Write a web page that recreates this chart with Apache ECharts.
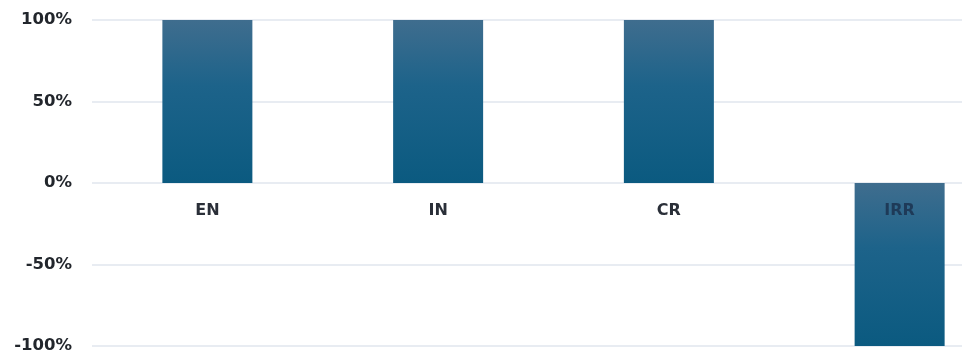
<!DOCTYPE html>
<html>
<head>
<meta charset="utf-8">
<script src="https://cdn.jsdelivr.net/npm/echarts@6/dist/echarts.min.js"></script>
<style>html,body{margin:0;padding:0;background:#fff}#c{width:962px;height:356px}</style>
</head>
<body>
<div id="c"></div>
<script>
const categories = ['EN', 'IN', 'CR', 'IRR'];
const values = [1, 1, 1, -1];
const yTicks = [-1, -0.5, 0, 0.5, 1];

const chart = echarts.init(document.getElementById('c'), null, {renderer: 'canvas'});
const barGrad = new echarts.graphic.LinearGradient(0, 0, 0, 1, [
  {offset: 0, color: '#3f6d8e'},
  {offset: 0.4, color: '#1d638a'},
  {offset: 1, color: '#0b5a80'}
]);
chart.setOption({
  animation: false,
  grid: {left: 92, right: -53, top: 20, bottom: 10, containLabel: false, outerBoundsMode: 'none'},
  xAxis: {
    type: 'category',
    data: categories,
    position: 'bottom',
    offset: -163,
    z: 5,
    axisLine: {show: false, onZero: false},
    axisTick: {show: false},
    axisLabel: {
      show: true, interval: 0, hideOverlap: false, margin: 20,
      color: (val, idx) => values[idx] < 0 ? '#1e3a58' : '#2a2f38',
      fontFamily: 'DejaVu Sans', fontWeight: 'bold', fontSize: 16
    }
  },
  yAxis: {
    type: 'value',
    min: yTicks[0],
    max: yTicks[yTicks.length - 1],
    interval: 0.5,
    axisLine: {show: false},
    axisTick: {show: false},
    splitLine: {lineStyle: {color: '#e0e6ee', width: 1.5}},
    axisLabel: {
      margin: 20,
      color: '#22262c',
      fontFamily: 'DejaVu Sans',
      fontWeight: 'bold',
      fontSize: 16.5,
      formatter: v => Math.round(v * 100) + '%'
    }
  },
  series: [{
    type: 'bar',
    data: values,
    barWidth: 90,
    itemStyle: {color: barGrad}
  }]
});
</script>
</body>
</html>
